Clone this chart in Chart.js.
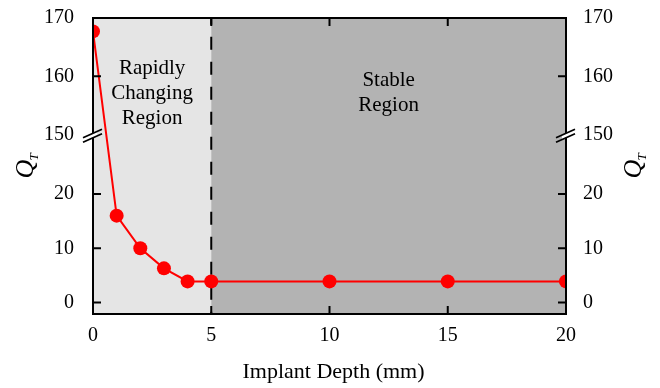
<!DOCTYPE html>
<html>
<head>
<meta charset="utf-8">
<script src="https://cdn.jsdelivr.net/npm/chart.js@4/dist/chart.umd.min.js"></script>
<style>
  html, body { margin:0; padding:0; background:#fff; }
  #wrap { width:660px; height:388px; }
</style>
</head>
<body>
<div id="wrap"><canvas id="chart"></canvas></div>
<script>
// ── data ──
const depths  = [0, 1, 2, 3, 4, 5, 10, 15, 20];
const qValues = [167.7, 16, 10, 6.3, 3.9, 3.9, 3.9, 3.9, 3.9];
const xTicks  = [0, 5, 10, 15, 20];
const yTicks  = [0, 10, 20, 150, 160, 170];
const rapidLabel  = ['Rapidly', 'Changing', 'Region'];
const stableLabel = ['Stable', 'Region'];
const xTitle = 'Implant Depth (mm)';

// ── broken y axis: values above the break are shifted down ──
const BREAK_LO = 30, BREAK_HI = 150;
function toAxis(v) { return v <= BREAK_LO ? v : 30.9 + (v - BREAK_HI) * 1.074; }

const SERIF = "'Liberation Serif','Times New Roman',serif";

const yScale = (pos, pad) => ({
  type: 'linear', position: pos,
  min: -2.1, max: toAxis(170),
  grid: { display:false }, border: { display:false },
  afterBuildTicks: s => { s.ticks = yTicks.map(v => ({ value: toAxis(v) })); },
  afterFit: s => {
    s.width = pos === 'left' ? 93 : 94;
    s.paddingTop = 0; s.paddingBottom = 0;
  },
  ticks: {
    autoSkip:false, padding:pad, color:'#000',
    font:{ family:SERIF, size:20 },
    callback: (v, i) => yTicks[i]
  }
});

function drawQT(ctx, cx, cy) {
  ctx.save();
  ctx.translate(cx, cy);
  ctx.rotate(-Math.PI / 2);
  ctx.fillStyle = '#000';
  ctx.textBaseline = 'alphabetic';
  ctx.font = 'italic 26px ' + SERIF;
  const w = ctx.measureText('Q').width;
  ctx.textAlign = 'left';
  ctx.fillText('Q', -w / 2 - 3, 8);
  ctx.font = 'italic 13px ' + SERIF;
  ctx.fillText('T', w / 2 - 4, 13);
  ctx.restore();
}

const decor = {
  id: 'decor',
  beforeDatasetsDraw(chart) {
    const { ctx, chartArea:a, scales:{ x } } = chart;
    const x5 = x.getPixelForValue(5);
    ctx.save();
    ctx.fillStyle = '#e5e5e5';
    ctx.fillRect(a.left, a.top, x5 - a.left, a.bottom - a.top);
    ctx.fillStyle = '#b3b3b3';
    ctx.fillRect(x5, a.top, a.right - x5, a.bottom - a.top);

    // dashed divider at 5 mm
    ctx.strokeStyle = '#000'; ctx.lineWidth = 2;
    ctx.setLineDash([13, 12]); ctx.lineDashOffset = 6.3;
    ctx.beginPath(); ctx.moveTo(x5, a.top); ctx.lineTo(x5, a.bottom); ctx.stroke();
    ctx.setLineDash([]);

    // region labels
    ctx.fillStyle = '#000';
    ctx.font = '21px ' + SERIF;
    ctx.textAlign = 'center'; ctx.textBaseline = 'middle';
    const cxL = (a.left + x5) / 2;
    rapidLabel.forEach((t, i) => ctx.fillText(t, cxL, a.top + 50 + i * 25));
    const cxR = x.getPixelForValue(12.5);
    stableLabel.forEach((t, i) => ctx.fillText(t, cxR, a.top + 62 + i * 25));
    ctx.restore();
  },
  afterDraw(chart) {
    const { ctx, chartArea:a, scales:{ x, y } } = chart;
    ctx.save();
    ctx.strokeStyle = '#000'; ctx.lineWidth = 2;
    ctx.strokeRect(a.left, a.top, a.right - a.left, a.bottom - a.top);

    // inward ticks
    const L = 8;
    ctx.beginPath();
    xTicks.forEach(v => {
      const px = x.getPixelForValue(v);
      ctx.moveTo(px, a.bottom); ctx.lineTo(px, a.bottom - L);
      ctx.moveTo(px, a.top);    ctx.lineTo(px, a.top + L);
    });
    yTicks.forEach(v => {
      if (v === BREAK_HI) return;
      const py = y.getPixelForValue(toAxis(v));
      ctx.moveTo(a.left, py);  ctx.lineTo(a.left + L, py);
      ctx.moveTo(a.right, py); ctx.lineTo(a.right - L, py);
    });
    ctx.stroke();

    // axis break marks
    const yb = y.getPixelForValue(toAxis(BREAK_HI)) + 2;
    [a.left, a.right].forEach(ax => {
      ctx.fillStyle = '#fff';
      ctx.beginPath();
      ctx.moveTo(ax - 4, yb + 2.5); ctx.lineTo(ax + 4, yb - 1);
      ctx.lineTo(ax + 4, yb - 5.5); ctx.lineTo(ax - 4, yb - 2);
      ctx.closePath(); ctx.fill();
      ctx.lineWidth = 1.8;
      ctx.beginPath();
      ctx.moveTo(ax - 10, yb + 5.5);  ctx.lineTo(ax + 9, yb - 3);
      ctx.moveTo(ax - 10, yb + 1);    ctx.lineTo(ax + 9, yb - 7.5);
      ctx.stroke();
    });

    // titles
    ctx.fillStyle = '#000';
    ctx.font = '22px ' + SERIF;
    ctx.textAlign = 'center'; ctx.textBaseline = 'middle';
    ctx.fillText(xTitle, (a.left + a.right) / 2 + 4, 372);
    const cy = (a.top + a.bottom) / 2;
    drawQT(ctx, 25, cy);
    drawQT(ctx, 633, cy);
    ctx.restore();
  }
};

new Chart(document.getElementById('chart'), {
  type: 'line',
  data: {
    datasets: [{
      data: depths.map((d, i) => ({ x: d, y: toAxis(qValues[i]) })),
      borderColor: '#ff0000',
      borderWidth: 2,
      backgroundColor: '#ff0000',
      pointBackgroundColor: '#ff0000',
      pointBorderWidth: 0,
      pointRadius: 7,
      tension: 0,
      clip: 0
    }]
  },
  options: {
    responsive: true, maintainAspectRatio: false,
    animation: false,
    layout: { padding: { top: 18, left: 0, right: 0, bottom: 0 } },
    plugins: { legend: { display:false }, tooltip: { enabled:false } },
    scales: {
      x: {
        type: 'linear', min: 0, max: 20,
        grid: { display:false }, border: { display:false },
        afterBuildTicks: s => { s.ticks = xTicks.map(v => ({ value: v })); },
        afterFit: s => { s.height = 74; s.paddingLeft = 0; s.paddingRight = 0; },
        ticks: { autoSkip:false, padding:2, color:'#000', maxRotation:0,
                 font:{ family:SERIF, size:20 } }
      },
      y:  yScale('left', 11),
      y2: yScale('right', 9)
    }
  },
  plugins: [decor]
});
</script>
</body>
</html>
